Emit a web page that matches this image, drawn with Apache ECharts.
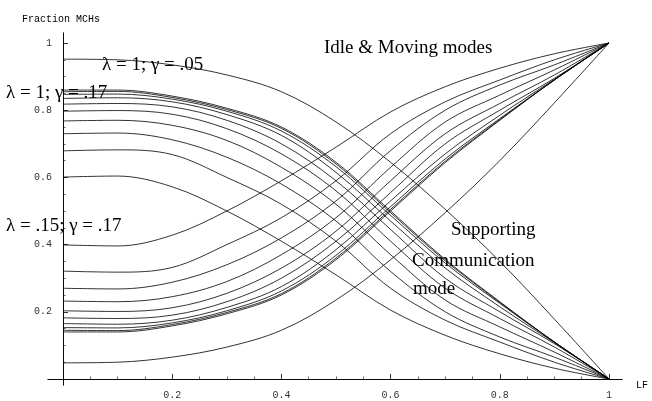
<!DOCTYPE html>
<html>
<head>
<meta charset="utf-8">
<script src="https://cdn.jsdelivr.net/npm/echarts@6/dist/echarts.min.js"></script>
<style>html,body{margin:0;padding:0;background:#fff;}#c{width:652px;height:401px;}</style>
</head>
<body>
<div id="c"></div>
<script>
// x positions (LF)
const xs = [0, 0.1, 0.2, 0.3, 0.4, 0.5, 0.6, 0.7, 0.8, 0.9, 1];
// tick labels
const xTicks = [0.2, 0.4, 0.6, 0.8, 1];
const yTicks = [0.2, 0.4, 0.6, 0.8, 1];
const minorTicks = [0.05,0.1,0.15,0.25,0.3,0.35,0.45,0.5,0.55,0.65,0.7,0.75,0.85,0.9,0.95];

// Supporting communication mode (decreasing), lambda = .15 ... 1, gamma = .17
const sup1  = [0.601,0.604,0.572,0.50,0.41,0.31,0.205,0.13,0.075,0.032,0];
const sup2  = [0.679,0.682,0.668,0.60,0.52,0.41,0.27,0.175,0.11,0.05,0];
const sup3  = [0.73,0.732,0.712,0.66,0.58,0.47,0.32,0.20,0.125,0.065,0];
const sup4  = [0.768,0.77,0.755,0.71,0.63,0.52,0.37,0.235,0.155,0.08,0];
const sup5  = [0.797,0.799,0.788,0.745,0.67,0.56,0.41,0.27,0.18,0.095,0];
const sup6  = [0.818,0.82,0.81,0.77,0.70,0.59,0.445,0.30,0.20,0.105,0];
const sup7  = [0.835,0.837,0.825,0.787,0.725,0.615,0.47,0.33,0.215,0.108,0];
const sup8  = [0.847,0.848,0.833,0.797,0.738,0.632,0.487,0.345,0.225,0.11,0];
const sup9  = [0.855,0.856,0.838,0.802,0.746,0.64,0.495,0.352,0.228,0.11,0];
const sup10 = [0.86,0.86,0.842,0.806,0.75,0.645,0.50,0.356,0.23,0.11,0];
// lambda = 1, gamma = .05
const supTop = [0.952,0.95,0.935,0.905,0.855,0.765,0.645,0.505,0.35,0.178,0];

// Idle & moving modes (increasing)
const idle1  = [0.399,0.396,0.428,0.50,0.59,0.69,0.795,0.87,0.925,0.968,1];
const idle2  = [0.321,0.318,0.332,0.40,0.48,0.59,0.73,0.825,0.89,0.95,1];
const idle3  = [0.27,0.268,0.288,0.34,0.42,0.53,0.68,0.80,0.875,0.935,1];
const idle4  = [0.232,0.23,0.245,0.29,0.37,0.48,0.63,0.765,0.845,0.92,1];
const idle5  = [0.203,0.201,0.212,0.255,0.33,0.44,0.59,0.73,0.82,0.905,1];
const idle6  = [0.182,0.18,0.19,0.23,0.30,0.41,0.555,0.70,0.80,0.895,1];
const idle7  = [0.165,0.163,0.175,0.213,0.275,0.385,0.53,0.67,0.785,0.892,1];
const idle8  = [0.153,0.152,0.167,0.203,0.262,0.368,0.513,0.655,0.775,0.89,1];
const idle9  = [0.145,0.144,0.162,0.198,0.254,0.36,0.505,0.648,0.772,0.89,1];
const idle10 = [0.14,0.14,0.158,0.194,0.25,0.355,0.50,0.644,0.77,0.89,1];
const idleTop = [0.048,0.05,0.065,0.095,0.145,0.235,0.355,0.495,0.65,0.822,1];

const allSeries = [sup1,sup2,sup3,sup4,sup5,sup6,sup7,sup8,sup9,sup10,supTop,
                   idle1,idle2,idle3,idle4,idle5,idle6,idle7,idle8,idle9,idle10,idleTop];

const chart = echarts.init(document.getElementById('c'), null, {renderer:'canvas'});
const monoFont = 'Liberation Mono';
const serif = '19px "Liberation Serif"';

function mkText(x, y, t, font) {
  return {type:'text', left: x, top: y, silent:true,
    style:{text:t, font: font, fill:'#000', textVerticalAlign:'middle'}};
}

const xMin = -0.0275, xMax = 1.0238, yMin = -0.0179, yMax = 1.0298;

const option = {
  animation:false,
  backgroundColor:'#fff',
  grid:{left:48, right:30, top:33, bottom:16, containLabel:false, outerBoundsMode:'none'},
  xAxis:[
    {type:'value', min:xMin, max:xMax, position:'bottom',
     axisLine:{onZero:true, lineStyle:{color:'#000', width:0.8}},
     axisTick:{inside:true, length:5, customValues:xTicks, lineStyle:{color:'#000', width:0.8}},
     axisLabel:{customValues:xTicks, margin:5, fontFamily:monoFont, fontSize:10, color:'#333'},
     splitLine:{show:false}},
    {type:'value', min:xMin, max:xMax, position:'bottom',
     axisLine:{onZero:true, lineStyle:{color:'#000', width:0.8}},
     axisTick:{inside:true, length:2.5, customValues:minorTicks, lineStyle:{color:'#000', width:0.6}},
     axisLabel:{show:false}, splitLine:{show:false}}
  ],
  yAxis:[
    {type:'value', min:yMin, max:yMax, position:'left',
     axisLine:{onZero:true, lineStyle:{color:'#000', width:0.8}},
     axisTick:{inside:true, length:5, customValues:yTicks, lineStyle:{color:'#000', width:0.8}},
     axisLabel:{customValues:yTicks, margin:-4, fontFamily:monoFont, fontSize:10, color:'#333'},
     splitLine:{show:false}},
    {type:'value', min:yMin, max:yMax, position:'left',
     axisLine:{onZero:true, lineStyle:{color:'#000', width:0.8}},
     axisTick:{inside:true, length:2.5, customValues:minorTicks, lineStyle:{color:'#000', width:0.6}},
     axisLabel:{show:false}, splitLine:{show:false}}
  ],
  series: allSeries.map((vals, k) => ({
    type:'line', xAxisIndex:0, yAxisIndex:0, silent:true,
    data: xs.map((x,i)=>[x, vals[i]]),
    showSymbol:false, symbol:'none', smooth:0.35,
    lineStyle:{color:'#000', width:0.8}
  })),
  graphic:[
    mkText(22, 14, 'Fraction MCHs', '10px "Liberation Mono"'),
    mkText(636, 380, 'LF', '10px "Liberation Mono"'),
    mkText(102, 55.6, 'λ = 1; γ = .05', serif),
    mkText(6, 83.6, 'λ = 1; γ = .17', serif),
    mkText(6, 216.6, 'λ = .15; γ = .17', serif),
    mkText(324, 38.6, 'Idle & Moving modes', serif),
    mkText(451, 220.6, 'Supporting', serif),
    mkText(412, 251.6, 'Communication', serif),
    mkText(413, 279.6, 'mode', serif)
  ]
};
chart.setOption(option);
</script>
</body>
</html>
